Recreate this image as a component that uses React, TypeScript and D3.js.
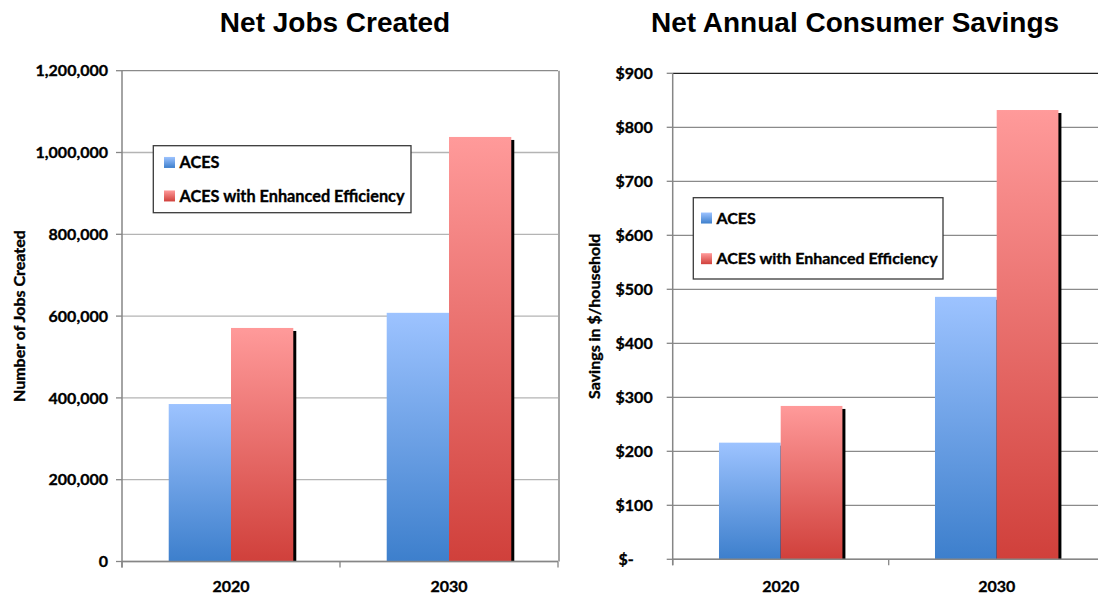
import React, { useEffect } from 'react';
import * as d3 from 'd3';

const categories = ['2020', '2030'];
const seriesNames = ['ACES', 'ACES with Enhanced Efficiency'];

// Net jobs created
const jobsAces = [385000, 608000];
const jobsEnhanced = [571000, 1038000];
const jobsTicks = [0, 200000, 400000, 600000, 800000, 1000000, 1200000];

// Net annual consumer savings ($/household)
const savingsAces = [216, 486];
const savingsEnhanced = [284, 832];
const savingsTicks = [0, 100, 200, 300, 400, 500, 600, 700, 800, 900];

const W = 1098;
const H = 595;
const labelFont = 'Lato, "Open Sans", sans-serif';
const titleFont = '"Liberation Sans", Arial, sans-serif';

// Calibri bold is heavier than Lato bold, so thicken a little
const heavy = { stroke: '#000', strokeWidth: 0.35 };

interface LegendBox {
  x: number;
  y: number;
  w: number;
  h: number;
  pad: number;
  size: number;
}

interface PanelProps {
  title: string;
  titleX: number;
  yTitle: string;
  yTitleX: number;
  left: number;
  right: number;
  top: number;
  bottom: number;
  aces: number[];
  enhanced: number[];
  ticks: number[];
  yMax: number;
  fmt: (v: number) => string;
  labelGap: number;
  gridColor: string;
  topColor: string;
  legend: LegendBox;
  rightBorder?: boolean;
}

const Panel: React.FC<PanelProps> = (p) => {
  const x = d3.scaleBand<string>().domain(categories).range([p.left, p.right]).padding(0);
  const inner = d3.scaleBand<string>()
    .domain(seriesNames)
    .range([0, x.bandwidth()])
    .paddingInner(0)
    .paddingOuter(0.75);
  const y = d3.scaleLinear().domain([0, p.yMax]).range([p.bottom, p.top]);

  const bars = categories.flatMap((c, i) => [
    { cat: c, series: seriesNames[0], value: p.aces[i], fill: 'url(#gradBlue)' },
    { cat: c, series: seriesNames[1], value: p.enhanced[i], fill: 'url(#gradRed)' },
  ]);

  const lw = inner.bandwidth();
  const rowGap = p.legend.h / 2;

  return (
    <g>
      <text
        x={p.titleX}
        y={32}
        textAnchor="middle"
        fontFamily={titleFont}
        fontWeight="bold"
        fontSize={28}
        fill="#000"
      >
        {p.title}
      </text>

      {/* gridlines */}
      {p.ticks.map((t, i) => (
        <line
          key={t}
          x1={p.left}
          x2={p.right}
          y1={y(t)}
          y2={y(t)}
          stroke={i === p.ticks.length - 1 ? p.topColor : p.gridColor}
          strokeWidth={1.3}
        />
      ))}
      {p.rightBorder && (
        <line x1={p.right + 1} x2={p.right + 1} y1={p.top} y2={p.bottom} stroke="#888" strokeWidth={1.5} />
      )}

      {/* shadows */}
      {bars.map((b) => {
        const bx = (x(b.cat) ?? 0) + (inner(b.series) ?? 0);
        const by = y(b.value);
        return (
          <rect
            key={'s' + b.cat + b.series}
            x={bx + 3}
            y={by + 3}
            width={lw}
            height={Math.max(0, p.bottom - by - 3)}
            fill="#000"
          />
        );
      })}

      {/* bars */}
      {bars.map((b) => {
        const bx = (x(b.cat) ?? 0) + (inner(b.series) ?? 0);
        const by = y(b.value);
        return (
          <rect
            key={b.cat + b.series}
            x={bx}
            y={by}
            width={lw}
            height={p.bottom - by}
            fill={b.fill}
          />
        );
      })}

      {/* y axis */}
      <line x1={p.left} x2={p.left} y1={p.top} y2={p.bottom + 6} stroke="#868686" strokeWidth={1.5} />
      {p.ticks.map((t) => (
        <g key={'t' + t}>
          <line x1={p.left - 6} x2={p.left} y1={y(t)} y2={y(t)} stroke="#868686" strokeWidth={1.3} />
          <text
            x={p.left - p.labelGap - (t === 0 && p.fmt(t) === '$-' ? 19 : 0)}
            y={y(t)}
            dy="0.36em"
            textAnchor="end"
            fontFamily={labelFont}
            fontWeight="bold"
            fontSize={16}
            fill="#000"
            {...heavy}
          >
            {p.fmt(t)}
          </text>
        </g>
      ))}

      {/* x axis */}
      <line x1={p.left} x2={p.right} y1={p.bottom} y2={p.bottom} stroke="#868686" strokeWidth={1.5} />
      {[p.left, ...categories.map((c) => (x(c) ?? 0) + x.bandwidth())].map((tx, i) => (
        <line key={'xt' + i} x1={tx} x2={tx} y1={p.bottom} y2={p.bottom + 6} stroke="#868686" strokeWidth={1.3} />
      ))}
      {categories.map((c) => (
        <text
          key={'xl' + c}
          x={(x(c) ?? 0) + x.bandwidth() / 2}
          y={592}
          textAnchor="middle"
          fontFamily={labelFont}
          fontWeight="bold"
          fontSize={16}
          fill="#000"
          {...heavy}
        >
          {c}
        </text>
      ))}

      {/* y title */}
      <text
        transform={`translate(${p.yTitleX},${(p.top + p.bottom) / 2}) rotate(-90)`}
        textAnchor="middle"
        dy="0.36em"
        fontFamily={labelFont}
        fontWeight="bold"
        fontSize={16}
        fill="#000"
        {...heavy}
      >
        {p.yTitle}
      </text>

      {/* legend */}
      <rect
        x={p.legend.x}
        y={p.legend.y}
        width={p.legend.w}
        height={p.legend.h}
        fill="#fff"
        stroke="#3a3a3a"
        strokeWidth={1.3}
      />
      {seriesNames.map((s, i) => {
        const cy = p.legend.y + rowGap / 2 + i * rowGap;
        return (
          <g key={'lg' + s}>
            <rect
              x={p.legend.x + p.legend.pad}
              y={cy - 5.5}
              width={11}
              height={11}
              fill={i === 0 ? 'url(#gradBlue)' : 'url(#gradRed)'}
            />
            <text
              x={p.legend.x + p.legend.pad + 15.5}
              y={cy}
              dy="0.36em"
              fontFamily={labelFont}
              fontWeight="bold"
              fontSize={p.legend.size}
              fill="#000"
              {...heavy}
            >
              {s}
            </text>
          </g>
        );
      })}
    </g>
  );
};

const App: React.FC = () => {
  useEffect(() => {
    document.body.style.margin = '0';
  }, []);

  const fmtJobs = d3.format(',');
  const fmtSavings = (v: number) => (v === 0 ? '$-' : `$${v}`);

  return (
    <svg width={W} height={H} style={{ display: 'block', background: '#fff' }}>
      <defs>
        <linearGradient id="gradBlue" x1="0" y1="0" x2="0" y2="1">
          <stop offset="0%" stopColor="#9dc3ff" />
          <stop offset="100%" stopColor="#3d7fcc" />
        </linearGradient>
        <linearGradient id="gradRed" x1="0" y1="0" x2="0" y2="1">
          <stop offset="0%" stopColor="#ff9a9a" />
          <stop offset="100%" stopColor="#d0403b" />
        </linearGradient>
      </defs>

      <Panel
        title="Net Jobs Created"
        titleX={335}
        yTitle="Number of Jobs Created"
        yTitleX={19}
        left={122}
        right={558}
        top={70.7}
        bottom={561.5}
        aces={jobsAces}
        enhanced={jobsEnhanced}
        ticks={jobsTicks}
        yMax={1200000}
        fmt={fmtJobs}
        labelGap={14}
        gridColor="#b4b4b4"
        topColor="#8a8a8a"
        legend={{ x: 153.3, y: 145.7, w: 257.7, h: 67, pad: 10.7, size: 16.3 }}
        rightBorder
      />
      <Panel
        title="Net Annual Consumer Savings"
        titleX={855}
        yTitle="Savings in $/household"
        yTitleX={594}
        left={672.7}
        right={1104.7}
        top={73.3}
        bottom={559.3}
        aces={savingsAces}
        enhanced={savingsEnhanced}
        ticks={savingsTicks}
        yMax={900}
        fmt={fmtSavings}
        labelGap={20}
        gridColor="#8a8a8a"
        topColor="#222"
        legend={{ x: 693.3, y: 197.7, w: 249.7, h: 81.3, pad: 7.7, size: 16 }}
      />
    </svg>
  );
};

export default App;
